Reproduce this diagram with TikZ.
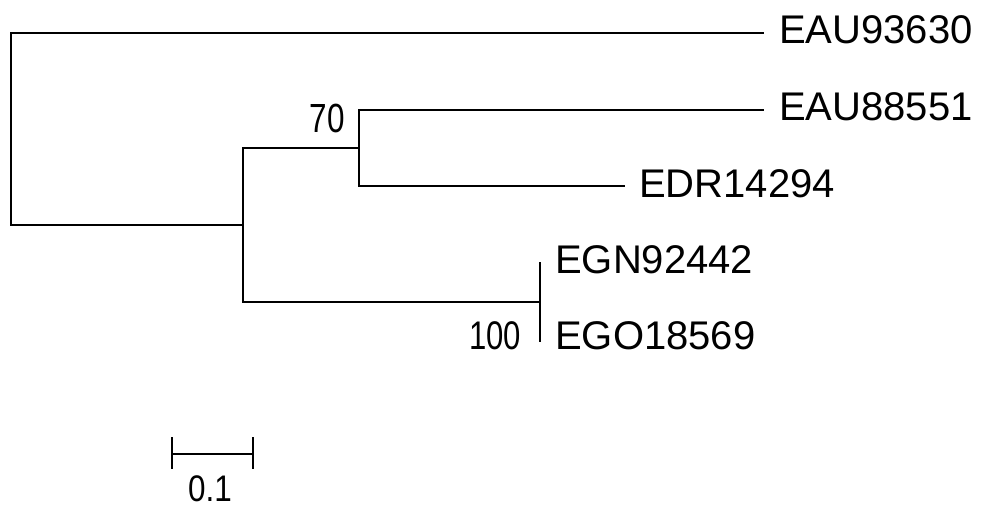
\documentclass[tikz,border=0pt]{standalone}
\usepackage{fontspec}
\setmainfont{Liberation Sans}
\begin{document}
\begin{tikzpicture}[x=1pt,y=-1pt,
  branch/.style={line width=2.8pt,line cap=rect},
  leaf/.style={anchor=west,inner sep=0pt,font=\fontsize{40}{44}\selectfont},
  boot/.style={inner sep=0pt,font=\fontsize{37}{40}\selectfont}]
\useasboundingbox (0,0) rectangle (981,508);
% internal nodes
\coordinate (rt) at (11,33);
\coordinate (rb) at (11,225);
\coordinate (a) at (243,225);
\coordinate (at) at (243,148);
\coordinate (ab) at (243,302);
\coordinate (bt) at (359,110);
\coordinate (bb) at (359,186);
\coordinate (c) at (540,302);
\coordinate (ct) at (540,263);
\coordinate (cb) at (540,341);
% tips
\coordinate (t1) at (763,33);
\coordinate (t2) at (763,110);
\coordinate (t3) at (624,186);
% labels
\node[leaf] (l1) at (779,30) {EAU93630};
\node[leaf] (l2) at (779,107) {EAU88551};
\node[leaf] (l3) at (639,184) {EDR14294};
\node[leaf] (l4) at (555,260) {EGN92442};
\node[leaf] (l5) at (555,336) {EGO18569};
\node[boot] (b70) at (327,118) {\scalebox{0.85}[1.1]{70}};
\node[boot] (b100) at (495,336) {\scalebox{0.84}[1.08]{100}};
% branches
\draw[branch] (t1) -- (rt) -- (rb) -- (a);
\draw[branch] (at) -- (ab);
\draw[branch] (at) -- (bt |- at);
\draw[branch] (bt) -- (bb);
\draw[branch] (bt) -- (t2);
\draw[branch] (bb) -- (t3);
\draw[branch] (ab) -- (c);
\draw[branch] (ct) -- (cb);
% scale bar
\coordinate (s1) at (172,454);
\coordinate (s2) at (253,454);
\draw[branch] (s1) -- (s2);
\draw[branch] ([yshift=-14]s1) -- ([yshift=16]s1);
\draw[branch] ([yshift=-14]s2) -- ([yshift=16]s2);
\node[boot] (sl) at (210,489) {\scalebox{0.85}[1]{0.1}};
\end{tikzpicture}
\end{document}
